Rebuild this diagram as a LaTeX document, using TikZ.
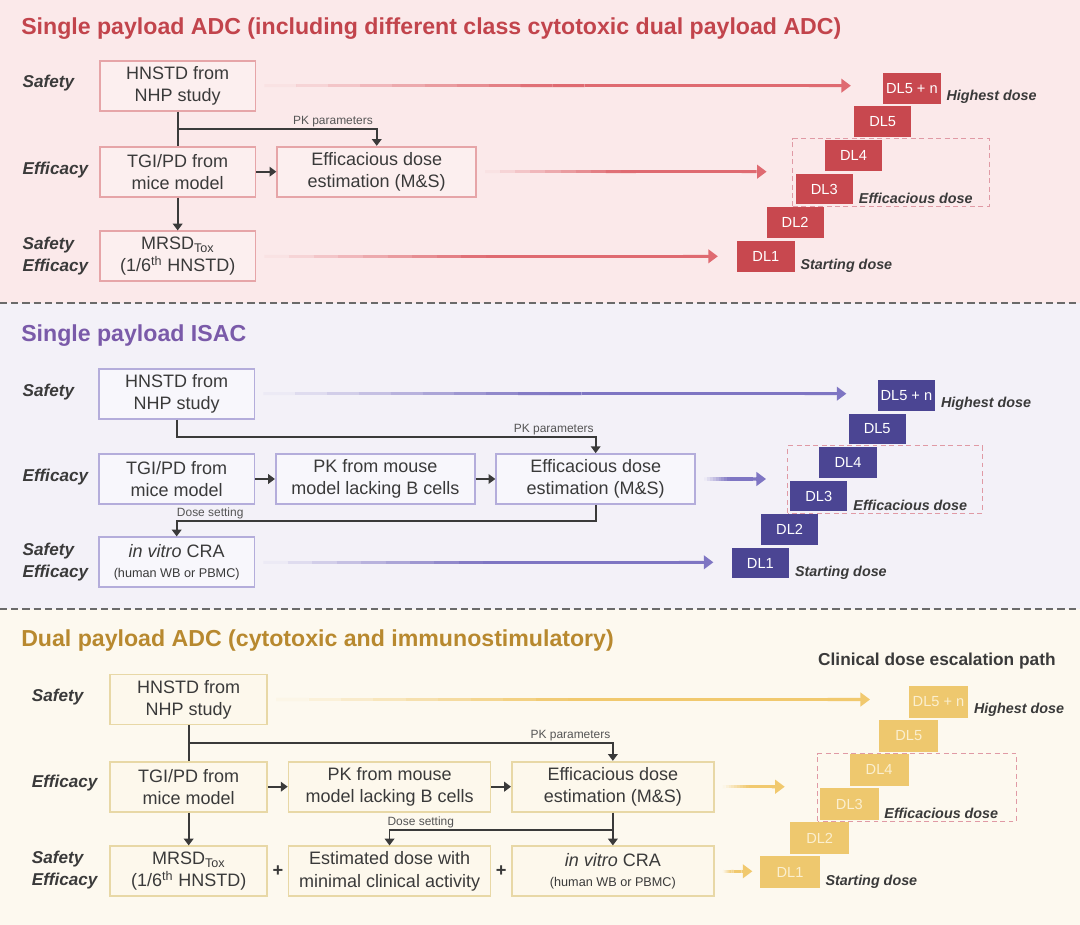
\documentclass[tikz,border=0pt]{standalone}
\usepackage{fontspec}
\setmainfont{Liberation Sans}
\usetikzlibrary{arrows.meta, positioning, calc}
\definecolor{adcBg}{HTML}{FBE9EA}
\definecolor{adcFill}{HTML}{FCEFEF}
\definecolor{adcLine}{HTML}{E6A5A8}
\definecolor{adcDose}{HTML}{C8484F}
\definecolor{adcArrow}{HTML}{DF6A71}
\definecolor{adcTitle}{HTML}{C2444C}
\definecolor{isacBg}{HTML}{F3F1F8}
\definecolor{isacFill}{HTML}{F8F7FC}
\definecolor{isacLine}{HTML}{B4ADDB}
\definecolor{isacDose}{HTML}{4B4593}
\definecolor{isacArrow}{HTML}{7E75C3}
\definecolor{isacTitle}{HTML}{7A5AA9}
\definecolor{dualBg}{HTML}{FDF9EF}
\definecolor{dualFill}{HTML}{FDF8EC}
\definecolor{dualLine}{HTML}{E8D8A6}
\definecolor{dualDose}{HTML}{EEC86E}
\definecolor{dualText}{HTML}{FBEFCF}
\definecolor{dualArrow}{HTML}{F1C96E}
\definecolor{dualTitle}{HTML}{B8892F}
\definecolor{inkGray}{HTML}{3A3A3A}
\definecolor{noteGray}{HTML}{555555}
\definecolor{dashPink}{HTML}{E09AA5}
\definecolor{sepGray}{HTML}{6A6A6A}

\newcommand{\fadearrow}[3]{%
  \coordinate (fa-s) at ($(#2)+(8,0)$);
  \coordinate (fa-t) at ($(#2)+(#3,0)$);
  \coordinate (fa-e) at ($(fa-t)+(-10,0)$);
  \foreach \k [evaluate=\k as \op using {min(1,(\k+0.5)/9)},
               evaluate=\k as \ka using {\k/18},
               evaluate=\k as \kb using {(\k+1)/18}] in {0,...,17}
    \draw[draw=#1, line width=2.2pt, draw opacity=\op] ($(fa-s)!\ka!(fa-e)$) -- ($(fa-s)!\kb!(fa-e)$);
  \draw[draw=#1, fill=#1, line width=2.2pt, -{Triangle[length=0.24cm, width=0.34cm]}] (fa-e) -- (fa-t);
}

\begin{document}
\begin{tikzpicture}[x=0.025cm, y=-0.025cm, font=\fontsize{12.8}{15.8}\selectfont,
        bx/.style={draw, line width=1.2pt, minimum width=3.89cm, minimum height=1.25cm,
            inner sep=0pt, align=center, text=inkGray},
        wide/.style={minimum width=4.975cm},
        wideC/.style={minimum width=5.05cm},
        bA/.style={bx, draw=adcLine, fill=adcFill},
        bB/.style={bx, draw=isacLine, fill=isacFill},
        bC/.style={bx, draw=dualLine, fill=dualFill, minimum width=3.925cm},
        ttl/.style={anchor=base west, inner sep=0pt, font=\fontsize{16.45}{19}\selectfont\bfseries},
        rl/.style={anchor=west, inner sep=0pt, align=left, text=inkGray,
            font=\fontsize{12.2}{15.4}\selectfont\bfseries\itshape},
        nt/.style={inner sep=1pt, text=noteGray, font=\fontsize{8.5}{10}\selectfont},
        dl/.style={minimum width=1.43cm, minimum height=0.77cm, inner sep=0pt,
            font=\fontsize{10.4}{12}\selectfont},
        dlC/.style={dl, minimum width=1.475cm, minimum height=0.8cm},
        dt/.style={anchor=west, inner sep=0pt, text=inkGray,
            font=\fontsize{10.2}{12}\selectfont\bfseries\itshape},
        db/.style={draw=dashPink, line width=0.8pt, dash pattern=on 3.5pt off 2.5pt},
        sp/.style={draw=sepGray, line width=1.1pt, dash pattern=on 5pt off 3pt},
        pl/.style={inner sep=0pt, text=inkGray, font=\fontsize{13}{15}\selectfont\bfseries},
        ln/.style={draw=inkGray, line width=1.3pt},
        tr/.style={ln, -{Triangle[length=0.17cm, width=0.24cm]}}]
    \useasboundingbox (0,0) rectangle (1080,925);
    \fill[adcBg] (0,0) rectangle (1080,303);
    \fill[isacBg] (0,303) rectangle (1080,609);
    \fill[dualBg] (0,609) rectangle (1080,925);
    \draw[sp] (0,303) -- (1080,303);
    \draw[sp] (0,609) -- (1080,609);

    \node[ttl, text=adcTitle] (tA) at (21,35) {Single payload ADC (including different class cytotoxic dual payload ADC)};
    \node[rl] (rA1) at (22.4,83.3) {Safety};
    \node[rl] (rA2) at (22.4,170) {Efficacy};
    \node[rl] (rA3) at (22.4,256) {Safety\\Efficacy};
    \node[bA] (hnA) at (177.7,85.7) {HNSTD from\\NHP study};
    \node[bA] (tgiA) at (177.7,171.7) {TGI/PD from\\mice model};
    \node[bA, wide, right=0.5cm of tgiA] (effA) {Efficacious dose\\estimation (M\&S)};
    \node[bA] (mrsdA) at (177.7,256.3) {MRSD\textsubscript{Tox}\\(1/6\textsuperscript{th} HNSTD)};
    \draw[ln] (hnA) -- (tgiA);
    \draw[tr] (hnA.south) ++(0,17.6) -| node[nt, pos=0.39, above] {PK parameters} (effA.north);
    \draw[tr] (tgiA) -- (effA);
    \draw[tr] (tgiA) -- (mrsdA);
    \fadearrow{adcArrow}{hnA.east}{594.5}
    \fadearrow{adcArrow}{effA.east}{289.5}
    \fadearrow{adcArrow}{mrsdA.east}{461.5}
    \foreach \i/\t in {1/DL1,2/DL2,3/DL3,4/DL4,5/DL5,6/DL5 + n}
        \node[dl, fill=adcDose, text=white] (dA\i) at ({765.9+(\i-1)*29.2},{256.2-(\i-1)*33.6}) {\t};
    \draw[db] ($(dA3.south west)+(-2.5,1.7)$) rectangle ($(dA4.north -| dA3.west)+(193.8,-1)$);
    \node[dt] (hiA) at ($(dA6.east)+(5.5,9)$) {Highest dose};
    \node[dt] (efA) at ($(dA3.east)+(5.5,9)$) {Efficacious dose};
    \node[dt] (stA) at ($(dA1.east)+(5.5,9.5)$) {Starting dose};

    \node[ttl, text=isacTitle] (tB) at (21,341.7) {Single payload ISAC};
    \node[rl] (rB1) at (22.4,391.7) {Safety};
    \node[rl] (rB2) at (22.4,476.7) {Efficacy};
    \node[rl] (rB3) at (22.4,562) {Safety\\Efficacy};
    \node[bB] (hnB) at (176.7,393.7) {HNSTD from\\NHP study};
    \node[bB] (tgiB) at (176.7,479) {TGI/PD from\\mice model};
    \node[bB, wide, right=0.49cm of tgiB] (pkB) {PK from mouse\\model lacking B cells};
    \node[bB, wide, right=0.49cm of pkB] (effB) {Efficacious dose\\estimation (M\&S)};
    \node[bB] (craB) at (176.7,562.3) {\textit{in vitro} CRA\\[-2pt]{\fontsize{9}{11}\selectfont(human WB or PBMC)}};
    \draw[tr] (hnB.south) -- ++(0,17.3) -| node[nt, pos=0.45, above] {PK parameters} (effB.north);
    \draw[tr] (tgiB) -- (pkB);
    \draw[tr] (pkB) -- (effB);
    \draw[tr] (effB.south) -- ++(0,16) -| node[nt, pos=0.46, above] {Dose setting} (craB.north);
    \fadearrow{isacArrow}{hnB.east}{591}
    \fadearrow{isacArrow}{effB.east}{70}
    \fadearrow{isacArrow}{craB.east}{458}
    \foreach \i/\t in {1/DL1,2/DL2,3/DL3,4/DL4,5/DL5,6/DL5 + n}
        \node[dl, fill=isacDose, text=white] (dB\i) at ({760.4+(\i-1)*29.2},{563-(\i-1)*33.5}) {\t};
    \draw[db] ($(dB3.south west)+(-2,1.4)$) rectangle ($(dB4.north -| dB3.west)+(192.4,-1)$);
    \node[dt] (hiB) at ($(dB6.east)+(5.5,8.5)$) {Highest dose};
    \node[dt] (efB) at ($(dB3.east)+(5.5,9)$) {Efficacious dose};
    \node[dt] (stB) at ($(dB1.east)+(5.5,9.3)$) {Starting dose};

    \node[ttl, text=dualTitle] (tC) at (21,646.7) {Dual payload ADC (cytotoxic and immunostimulatory)};
    \node[inner sep=0pt, text=inkGray, font=\fontsize{12.3}{15}\selectfont\bfseries] (cdep) at (936.9,660.7) {Clinical dose escalation path};
    \node[rl] (rC1) at (31.7,697.3) {Safety};
    \node[rl] (rC2) at (31.7,783.3) {Efficacy};
    \node[rl] (rC3) at (31.7,870) {Safety\\Efficacy};
    \node[bC] (hnC) at (188.7,699.5) {HNSTD from\\NHP study};
    \node[bC] (tgiC) at (188.7,786.7) {TGI/PD from\\mice model};
    \node[bC, wideC, right=0.49cm of tgiC] (pkC) {PK from mouse\\model lacking B cells};
    \node[bC, wideC, right=0.49cm of pkC] (effC) {Efficacious dose\\estimation (M\&S)};
    \node[bC] (mrsdC) at (188.7,871.3) {MRSD\textsubscript{Tox}\\(1/6\textsuperscript{th} HNSTD)};
    \node[bC, wideC, right=0.49cm of mrsdC] (estC) {Estimated dose with\\minimal clinical activity};
    \node[bC, wideC, right=0.49cm of estC] (craC) {\textit{in vitro} CRA\\[-2pt]{\fontsize{9}{11}\selectfont(human WB or PBMC)}};
    \node[pl] (plus1) at ($(mrsdC.east)!0.5!(estC.west)$) {+};
    \node[pl] (plus2) at ($(estC.east)!0.5!(craC.west)$) {+};
    \draw[ln] (hnC) -- (tgiC);
    \draw[tr] (hnC.south) ++(0,18) -| node[nt, pos=0.45, above] {PK parameters} (effC.north);
    \draw[tr] (tgiC) -- (pkC);
    \draw[tr] (pkC) -- (effC);
    \draw[tr] (tgiC) -- (mrsdC);
    \draw[tr] (effC) -- (craC);
    \draw[tr] (effC.south) ++(0,17.6) -| node[nt, pos=0.43, above] {Dose setting} (estC.north);
    \fadearrow{dualArrow}{hnC.east}{602}
    \fadearrow{dualArrow}{effC.east}{70}
    \fadearrow{dualArrow}{craC.east}{37.6}
    \foreach \i/\t in {1/DL1,2/DL2,3/DL3,4/DL4,5/DL5,6/DL5 + n}
        \node[dlC, fill=dualDose, text=dualText] (dC\i) at ({790+(\i-1)*29.7},{872.2-(\i-1)*34.1}) {\t};
    \draw[db] ($(dC3.south west)+(-2,1)$) rectangle ($(dC4.north -| dC3.west)+(197,0)$);
    \node[dt] (hiC) at ($(dC6.east)+(5.5,8.3)$) {Highest dose};
    \node[dt] (efC) at ($(dC3.east)+(5,9)$) {Efficacious dose};
    \node[dt] (stC) at ($(dC1.east)+(5.5,9.5)$) {Starting dose};
\end{tikzpicture}
\end{document}
